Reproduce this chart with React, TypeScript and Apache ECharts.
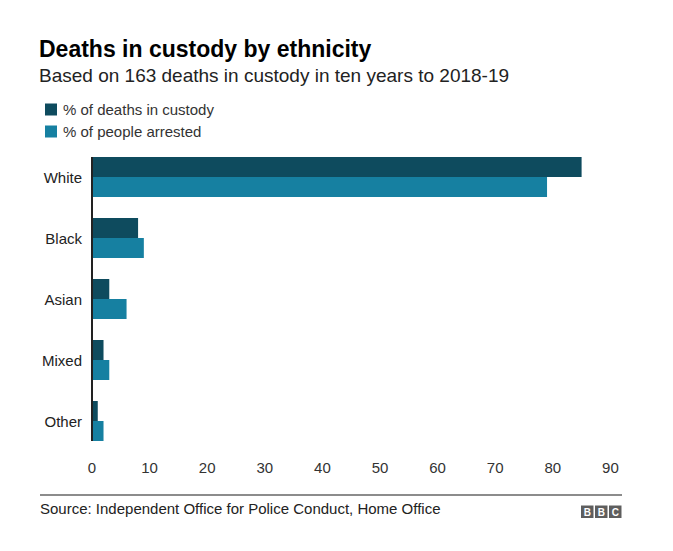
import React, { useEffect, useRef } from "react";
import * as echarts from "echarts";

const categories = ["White", "Black", "Asian", "Mixed", "Other"];
const deathsInCustody = [85, 8, 3, 2, 1];
const peopleArrested = [79, 9, 6, 3, 2];
const seriesNames = ["% of deaths in custody", "% of people arrested"];
const xMax = 90;
const xInterval = 10;

const FONT = "'Liberation Sans', Arial, Helvetica, sans-serif";
const DARK = "#0e4b5e";
const LIGHT = "#1680a1";

export default function App() {
  const ref = useRef<HTMLDivElement>(null);

  useEffect(() => {
    if (!ref.current) return;
    const chart = echarts.init(ref.current, null, { renderer: "svg" });

    const gridLeft = 92;
    const gridTop = 146.5;
    const gridHeight = 305;
    const band = gridHeight / categories.length;
    const pad = (band - 40) / 2;

    const logoLetters = ["B", "B", "C"];
    const logo = logoLetters.flatMap((ch, i) => [
      {
        type: "rect",
        left: 581 + i * 14,
        top: 505.5,
        shape: { width: 12.5, height: 12.5 },
        style: { fill: "#5e5e5e" },
      },
      {
        type: "text",
        x: 581 + i * 14 + 6.25,
        y: 512,
        style: {
          text: ch,
          fill: "#ffffff",
          font: `bold 10px ${FONT}`,
          textAlign: "center",
          textVerticalAlign: "middle",
        },
      },
    ]);

    chart.setOption({
      animation: false,
      backgroundColor: "#ffffff",
      title: {
        text: "Deaths in custody by ethnicity",
        subtext: "Based on 163 deaths in custody in ten years to 2018-19",
        left: 34,
        top: 32,
        itemGap: 6,
        textStyle: { fontFamily: FONT, fontSize: 23, fontWeight: "bold", color: "#000" },
        subtextStyle: { fontFamily: FONT, fontSize: 19, color: "#222" },
      },
      legend: {
        orient: "vertical",
        left: 40,
        top: 97,
        itemWidth: 12,
        itemHeight: 12,
        itemGap: 7,
        icon: "rect",
        data: seriesNames,
        textStyle: { fontFamily: FONT, fontSize: 15, color: "#333", padding: [0, 0, 0, 1] },
      },
      grid: {
        left: gridLeft,
        right: 673 - (gridLeft + 518.4),
        top: gridTop,
        height: gridHeight,
        containLabel: false,
      },
      xAxis: {
        type: "value",
        min: 0,
        max: xMax,
        interval: xInterval,
        axisLine: { show: false },
        axisTick: { show: false },
        splitLine: { show: false },
        axisLabel: { fontFamily: FONT, fontSize: 15, color: "#333", margin: 8 },
      },
      yAxis: {
        type: "category",
        data: categories,
        inverse: true,
        axisLine: { show: false },
        axisTick: { show: false },
        axisLabel: { fontFamily: FONT, fontSize: 15, color: "#222", margin: 10 },
      },
      series: [
        {
          name: seriesNames[0],
          type: "bar",
          data: deathsInCustody,
          barWidth: 20,
          barGap: "0%",
          itemStyle: { color: DARK },
        },
        {
          name: seriesNames[1],
          type: "bar",
          data: peopleArrested,
          barWidth: 20,
          barGap: "0%",
          itemStyle: { color: LIGHT },
        },
      ],
      graphic: [
        {
          type: "line",
          shape: { x1: gridLeft, y1: gridTop + pad, x2: gridLeft, y2: gridTop + gridHeight - pad },
          style: { stroke: "#222", lineWidth: 2 },
          z: 10,
        },
        {
          type: "line",
          shape: { x1: 40, y1: 495, x2: 622, y2: 495 },
          style: { stroke: "#666", lineWidth: 1.5 },
        },
        {
          type: "text",
          x: 40,
          y: 508,
          style: {
            text: "Source: Independent Office for Police Conduct, Home Office",
            fill: "#222",
            font: `15px ${FONT}`,
            textVerticalAlign: "middle",
          },
        },
        ...logo,
      ],
    });

    return () => chart.dispose();
  }, []);

  return (
    <div
      ref={ref}
      style={{ position: "fixed", left: 0, top: 0, width: 673, height: 551 }}
    />
  );
}
